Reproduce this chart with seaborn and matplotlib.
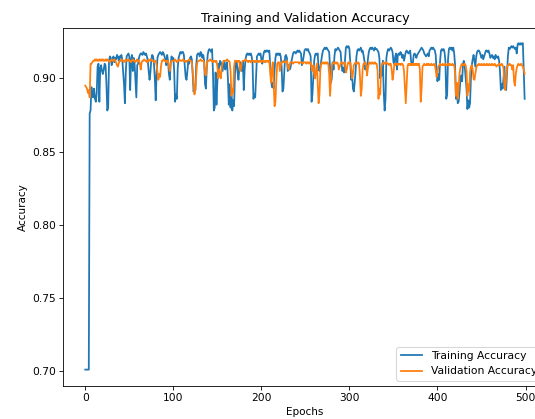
import numpy as np
import pandas as pd
import matplotlib
matplotlib.use("Agg")
import matplotlib.pyplot as plt
import seaborn as sns

# Accuracy values, in thousandths (0.915 -> 915), one per epoch
train_acc_milli = [
    701,701,701,701,701,876,878,894,889,887,893,886,884,890,908,910,884,907,909,905,
    903,906,910,909,897,878,880,912,915,914,909,913,915,911,914,913,916,915,912,915,
    914,916,913,905,896,883,904,915,916,917,915,892,913,916,905,914,910,899,887,909,
    910,914,916,917,917,916,918,917,916,917,915,912,905,899,904,913,916,915,910,900,
    885,903,914,916,917,918,917,916,918,917,915,913,909,916,912,903,899,910,915,913,
    914,905,884,889,886,907,914,916,918,917,918,918,916,908,901,899,905,912,910,914,
    915,913,903,891,895,892,909,916,917,917,915,918,917,914,916,912,896,893,907,916,
    919,920,919,918,920,905,878,880,904,882,897,910,907,912,911,908,905,910,912,906,
    909,911,900,882,896,880,893,878,885,881,903,911,912,904,899,907,911,908,905,912,
    892,906,913,916,917,916,917,916,917,915,910,886,889,887,901,915,916,917,916,917,
    913,910,915,918,919,918,919,919,918,919,910,900,894,897,893,906,914,917,916,917,
    916,917,915,908,891,893,904,915,916,914,905,909,906,907,911,914,917,918,918,917,
    918,919,918,919,918,917,909,911,915,919,920,920,919,920,918,917,915,884,889,900,
    912,916,917,916,917,906,905,908,912,916,919,920,921,920,921,920,919,918,908,897,
    900,911,906,915,920,919,920,921,920,919,918,910,905,907,904,912,921,922,921,922,
    920,911,899,904,893,891,897,905,915,919,920,919,920,921,918,919,916,912,906,908,
    906,913,918,920,921,920,921,920,919,921,920,920,919,918,914,900,905,902,912,890,
    878,886,914,918,920,919,920,921,920,918,911,910,915,917,906,916,917,916,918,917,
    914,916,912,915,918,919,918,917,918,919,912,909,910,916,917,916,914,916,917,918,
    919,920,921,920,919,917,916,915,916,917,915,919,920,921,920,921,920,919,916,905,
    898,903,899,912,919,920,919,920,918,912,886,889,913,920,921,920,921,919,921,917,
    909,886,895,883,884,890,898,902,898,910,912,908,900,893,879,885,880,883,900,909,
    913,916,912,908,915,918,919,919,918,916,914,916,913,915,917,919,919,918,919,917,
    914,915,916,914,915,913,916,915,914,915,912,905,892,896,893,900,908,897,892,903,
    915,921,920,921,922,921,922,921,920,921,917,923,924,923,924,923,924,924,905,886,
]

val_acc_milli = [
    895,894,893,890,892,887,910,910,911,912,912,913,912,913,912,912,913,912,913,912,
    913,912,912,913,912,913,912,912,911,912,913,912,912,913,912,911,909,908,910,912,
    912,913,912,912,911,912,913,912,912,913,912,912,911,912,913,912,912,911,912,913,
    912,912,910,906,911,912,912,913,912,912,911,912,913,912,912,913,912,912,911,912,
    912,909,904,899,903,901,908,912,912,913,912,912,911,912,912,908,905,910,912,912,
    912,912,913,912,911,912,912,913,912,912,912,913,912,912,911,912,912,912,913,912,
    912,911,905,897,889,892,902,910,912,912,912,913,912,912,912,911,903,902,909,912,
    912,912,913,912,912,911,912,912,911,912,908,900,906,902,900,908,910,912,912,912,
    912,913,912,912,911,905,888,893,890,908,912,912,912,911,912,912,905,907,911,912,
    912,912,913,912,912,911,912,912,911,912,912,912,911,912,911,912,912,911,912,912,
    911,912,912,911,912,911,912,912,911,912,904,897,906,911,895,881,884,899,910,911,
    911,905,909,911,911,912,911,911,911,912,908,906,909,911,911,911,910,911,911,911,
    911,911,911,910,911,911,911,910,911,911,911,910,911,911,910,911,911,907,905,909,
    903,900,906,910,896,883,889,906,910,911,910,911,910,911,910,911,910,903,888,898,
    909,910,911,910,911,910,911,910,906,908,910,911,910,910,911,910,904,906,910,911,
    910,911,906,900,903,909,910,911,910,910,911,910,901,888,893,906,910,910,911,910,
    902,907,910,911,910,910,911,910,910,911,910,910,905,886,893,889,907,910,910,911,
    910,910,911,910,910,909,910,910,906,899,903,910,909,910,910,909,910,910,909,910,
    910,909,905,894,883,896,908,910,909,910,909,910,909,910,909,910,909,910,909,910,
    906,884,893,908,909,910,909,909,910,909,910,909,909,910,909,909,910,909,906,901,
    904,908,909,910,909,909,910,909,909,910,909,909,910,909,910,909,909,910,909,909,
    904,888,897,886,893,903,907,909,910,909,909,910,909,905,888,896,891,904,908,909,
    906,900,899,903,907,909,909,910,909,909,910,909,909,910,909,909,910,909,909,910,
    909,909,910,909,909,910,909,908,909,909,910,909,909,910,909,907,896,892,900,908,
    909,909,910,909,909,906,909,898,895,903,907,909,910,909,909,910,909,908,906,903,
]

series_labels = ["Training Accuracy", "Validation Accuracy"]
title_text = "Training and Validation Accuracy"
x_label = "Epochs"
y_label = "Accuracy"

train_df = pd.DataFrame({"epoch": np.arange(len(train_acc_milli)),
                         "acc": np.array(train_acc_milli) / 1000.0})
val_df = pd.DataFrame({"epoch": np.arange(len(val_acc_milli)),
                       "acc": np.array(val_acc_milli) / 1000.0})

DPI = 75
fig = plt.figure(figsize=(535 / DPI, 419 / DPI), dpi=DPI)
ax = fig.add_axes([63.3 / 535, 33.0 / 419, 483.3 / 535, 357.7 / 419])

sns.lineplot(data=train_df, x="epoch", y="acc", ax=ax, color="#1f77b4",
             label=series_labels[0], linewidth=1.7)
sns.lineplot(data=val_df, x="epoch", y="acc", ax=ax, color="#ff7f0e",
             label=series_labels[1], linewidth=1.7)

ax.set_ylim(0.6898, 0.9342)
ax.set_xticks([0, 100, 200, 300, 400, 500])
ax.set_yticks([0.70, 0.75, 0.80, 0.85, 0.90])
ax.set_title(title_text, fontsize=12.3)
ax.set_xlabel(x_label)
ax.set_ylabel(y_label)
ax.tick_params(labelsize=10.2)
ax.legend(loc="lower right", fontsize=10.3)

fig.savefig("out.png", dpi=DPI)
